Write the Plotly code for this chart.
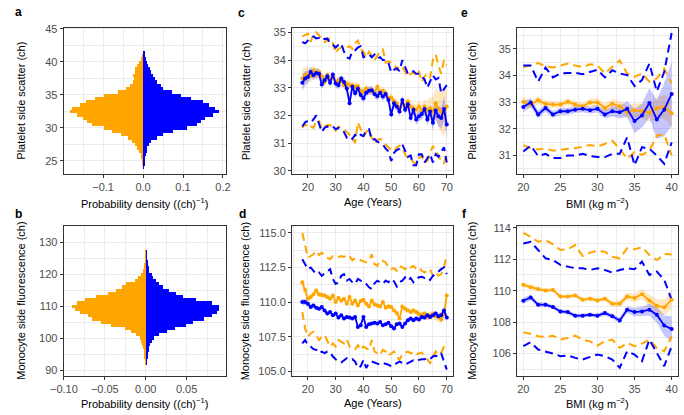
import plotly.graph_objects as go

W, H = 684, 415
ORANGE = "#FFA500"
BLUE = "#0000FF"
ORANGE_BAND = "rgba(255,165,0,0.25)"
BLUE_BAND = "rgba(0,0,255,0.22)"
GRID = "#EBEBEB"
FONT = "Liberation Sans, Arial, sans-serif"

# ---- panel a: platelet side scatter histogram (bin width 0.5 ch)
pss_bins = [24.0, 24.5, 25.0, 25.5, 26.0, 26.5, 27.0, 27.5, 28.0, 28.5, 29.0, 29.5,
            30.0, 30.5, 31.0, 31.5, 32.0, 32.5, 33.0, 33.5, 34.0, 34.5, 35.0, 35.5,
            36.0, 36.5, 37.0, 37.5, 38.0, 38.5, 39.0, 39.5, 40.0, 40.5, 41.0, 41.5]
pss_dens_male = [0.001, 0.002, 0.003, 0.004, 0.006, 0.008, 0.010, 0.014, 0.020, 0.033, 0.050, 0.073,
                 0.110, 0.135, 0.143, 0.155, 0.175, 0.188, 0.180, 0.165, 0.150, 0.118, 0.095, 0.072,
                 0.050, 0.045, 0.035, 0.030, 0.025, 0.020, 0.016, 0.012, 0.008, 0.006, 0.004, 0.002]
pss_dens_female = [-0.001, -0.002, -0.003, -0.005, -0.007, -0.010, -0.015, -0.020, -0.029, -0.040, -0.056, -0.078,
                   -0.100, -0.128, -0.142, -0.152, -0.167, -0.184, -0.180, -0.160, -0.143, -0.122, -0.100, -0.065,
                   -0.045, -0.035, -0.027, -0.025, -0.026, -0.022, -0.020, -0.015, -0.010, -0.005, -0.003, -0.001]

# ---- panel b: monocyte side fluorescence histogram (bin width 1 ch)
msf_bins = list(range(92, 128))
msf_dens_male = [0.001, 0.001, 0.002, 0.002, 0.003, 0.004, 0.005, 0.007, 0.010, 0.016, 0.026, 0.035,
                 0.049, 0.057, 0.071, 0.081, 0.087, 0.089, 0.089, 0.081, 0.061, 0.045, 0.037, 0.028,
                 0.021, 0.016, 0.012, 0.009, 0.007, 0.004, 0.003, 0.002, 0.002, 0.001, 0.001, 0.0005]
msf_dens_female = [-0.001, -0.001, -0.002, -0.002, -0.003, -0.004, -0.005, -0.006, -0.008, -0.012, -0.018, -0.026,
                   -0.043, -0.055, -0.066, -0.071, -0.081, -0.087, -0.091, -0.085, -0.075, -0.061, -0.047, -0.037,
                   -0.030, -0.024, -0.014, -0.010, -0.006, -0.004, -0.003, -0.002, -0.001, -0.001, -0.0005, -0.0003]

# ---- panels c, d: by age
age = list(range(18, 71))

c_blue_mean = [33.18, 33.33, 33.39, 33.57, 33.45, 33.53, 33.50, 33.12, 33.27, 33.41,
               33.18, 33.48, 33.15, 33.09, 33.33, 33.21, 32.97, 32.44, 33.03, 32.80,
               32.97, 32.74, 32.62, 32.82, 32.89, 32.91, 32.77, 32.70, 32.82, 32.68,
               32.77, 32.56, 32.03, 32.44, 32.32, 32.14, 32.56, 32.20, 32.40, 31.91,
               32.20, 31.85, 31.97, 32.05, 32.23, 31.85, 32.14, 31.73, 32.18, 31.97,
               31.91, 32.23, 31.67]
c_blue_hw = [0.30, 0.26, 0.22, 0.20, 0.19, 0.18, 0.17, 0.17, 0.16, 0.16,
             0.16, 0.15, 0.15, 0.15, 0.15, 0.15, 0.15, 0.15, 0.15, 0.15,
             0.15, 0.15, 0.15, 0.15, 0.15, 0.15, 0.15, 0.15, 0.15, 0.15,
             0.15, 0.15, 0.16, 0.16, 0.16, 0.16, 0.17, 0.17, 0.17, 0.18,
             0.18, 0.19, 0.19, 0.20, 0.21, 0.22, 0.24, 0.28, 0.32, 0.36,
             0.40, 0.45, 0.48]
c_blue_hi = [34.65, 34.60, 34.70, 34.80, 34.85, 34.78, 34.80, 34.85, 34.75, 34.78,
             34.60, 34.55, 34.45, 34.55, 34.60, 34.30, 34.10, 34.05, 34.30, 34.35,
             34.45, 34.50, 34.10, 34.15, 34.20, 34.10, 34.20, 34.05, 34.10, 34.00,
             34.00, 33.90, 33.55, 33.65, 33.70, 33.60, 34.00, 33.75, 33.50, 33.55,
             33.60, 33.50, 33.50, 33.40, 33.30, 33.00, 33.20, 33.45, 33.30, 33.35,
             32.80, 32.95, 33.10]
c_blue_lo = [31.60, 31.75, 31.80, 31.75, 31.85, 32.00, 31.70, 31.40, 31.55, 31.60,
             31.55, 31.60, 31.50, 31.55, 31.50, 31.40, 31.20, 31.25, 31.15, 31.30,
             31.20, 31.30, 31.25, 31.45, 31.50, 31.10, 31.15, 31.05, 31.00, 30.95,
             30.80, 30.70, 30.35, 30.65, 30.75, 30.80, 30.95, 30.70, 30.50, 30.55,
             30.20, 30.20, 30.60, 30.60, 30.30, 30.45, 30.60, 30.30, 30.60, 30.50,
             30.70, 30.85, 30.30]
c_orange_mean = [33.33, 33.45, 33.48, 33.41, 33.63, 33.48, 33.57, 33.41, 33.21, 33.45,
                 33.33, 33.39, 33.18, 33.27, 33.25, 33.09, 33.15, 33.09, 33.09, 33.03,
                 33.06, 32.89, 32.86, 32.97, 32.89, 32.89, 32.82, 33.03, 32.82, 32.89,
                 32.80, 32.62, 32.65, 32.50, 32.44, 32.26, 32.44, 32.32, 32.50, 32.32,
                 32.26, 32.20, 32.32, 32.18, 32.32, 32.20, 32.26, 32.14, 32.44, 32.23,
                 32.14, 32.09, 32.32]
c_orange_hw = [0.35, 0.30, 0.25, 0.22, 0.20, 0.19, 0.18, 0.17, 0.16, 0.16,
               0.15, 0.15, 0.15, 0.14, 0.14, 0.14, 0.14, 0.14, 0.14, 0.14,
               0.14, 0.14, 0.14, 0.14, 0.14, 0.14, 0.14, 0.14, 0.14, 0.14,
               0.14, 0.14, 0.15, 0.15, 0.15, 0.15, 0.16, 0.16, 0.17, 0.17,
               0.18, 0.18, 0.20, 0.22, 0.25, 0.30, 0.40, 0.50, 0.55, 0.65,
               0.75, 0.85, 0.70]
c_orange_hi = [34.85, 34.90, 34.95, 34.65, 34.95, 35.00, 34.90, 34.70, 34.65, 34.70,
               34.80, 34.60, 34.25, 34.40, 34.45, 34.50, 34.45, 34.50, 34.40, 34.60,
               34.70, 34.40, 34.30, 34.10, 34.30, 34.15, 34.00, 34.15, 34.30, 34.40,
               33.90, 33.95, 33.90, 33.85, 33.65, 33.80, 33.75, 33.55, 33.40, 33.50,
               33.55, 33.45, 33.60, 33.20, 33.40, 33.50, 33.35, 34.00, 34.20, 33.80,
               33.50, 34.00, 33.80]
c_orange_lo = [31.55, 31.70, 31.55, 31.60, 31.55, 31.80, 31.80, 31.50, 31.60, 31.65,
               31.65, 31.55, 31.45, 31.60, 31.55, 31.50, 31.40, 31.30, 31.20, 31.00,
               31.75, 31.50, 31.25, 31.40, 31.50, 31.20, 31.00, 31.10, 31.15, 31.10,
               30.95, 30.85, 30.75, 30.70, 30.85, 30.90, 30.85, 30.60, 30.45, 30.45,
               30.30, 30.25, 30.45, 30.55, 30.30, 30.35, 30.60, 30.90, 30.70, 30.55,
               30.35, 30.25, 30.70]

d_blue_mean = [110.00, 110.00, 109.88, 109.64, 109.76, 109.60, 109.52, 109.64, 109.40, 109.17,
               109.29, 109.05, 109.17, 108.88, 109.05, 108.81, 108.93, 108.88, 108.81, 108.93,
               108.21, 108.33, 108.93, 108.21, 108.40, 108.45, 108.50, 108.45, 108.57, 108.33,
               108.40, 108.50, 108.26, 108.10, 108.40, 108.45, 108.21, 108.45, 108.69, 108.81,
               108.69, 108.81, 108.74, 108.93, 108.88, 109.05, 108.93, 109.05, 109.17, 108.98,
               109.05, 109.40, 108.88]
d_blue_hw = [0.25, 0.22, 0.20, 0.18, 0.17, 0.16, 0.15, 0.15, 0.14, 0.14,
             0.14, 0.13, 0.13, 0.13, 0.13, 0.13, 0.12, 0.12, 0.12, 0.12,
             0.12, 0.12, 0.12, 0.12, 0.12, 0.12, 0.12, 0.12, 0.12, 0.12,
             0.12, 0.12, 0.12, 0.13, 0.13, 0.13, 0.13, 0.14, 0.14, 0.14,
             0.15, 0.15, 0.16, 0.16, 0.17, 0.17, 0.18, 0.19, 0.20, 0.22,
             0.24, 0.26, 0.30]
d_blue_hi = [113.10, 112.74, 112.38, 112.50, 112.26, 112.02, 112.14, 111.90, 112.07, 112.26,
             112.38, 111.67, 111.31, 111.43, 111.90, 112.02, 111.55, 111.67, 111.43, 111.31,
             111.67, 111.55, 111.50, 111.31, 111.07, 110.95, 111.36, 111.55, 111.43, 111.31,
             111.55, 111.43, 111.67, 111.50, 111.12, 111.43, 111.55, 111.79, 111.55, 111.74,
             111.43, 111.67, 111.79, 111.83, 111.74, 111.79, 111.60, 111.90, 112.02, 112.21,
             112.38, 112.50, 112.02]
d_blue_lo = [107.02, 107.26, 106.90, 106.79, 106.60, 106.55, 106.31, 106.43, 106.31, 106.43,
             106.38, 106.07, 105.88, 105.71, 105.64, 105.83, 105.95, 105.83, 105.88, 105.71,
             105.24, 105.36, 105.83, 105.24, 105.60, 105.71, 105.64, 105.60, 105.48, 105.60,
             105.55, 105.48, 105.36, 105.41, 105.60, 105.71, 105.60, 105.48, 105.60, 105.71,
             105.79, 105.71, 105.83, 105.88, 105.88, 105.95, 105.88, 106.07, 106.12, 106.07,
             106.31, 105.71, 105.12]
d_orange_mean = [111.43, 110.88, 110.24, 110.36, 110.55, 110.83, 110.55, 110.52, 110.48, 110.36,
                 110.24, 110.48, 110.00, 110.31, 110.12, 110.24, 109.88, 110.36, 109.88, 110.12,
                 109.76, 110.07, 110.17, 109.88, 109.69, 110.12, 109.83, 109.76, 109.69, 110.00,
                 109.60, 109.69, 109.64, 109.40, 109.21, 108.81, 109.69, 109.52, 109.40, 109.29,
                 109.40, 109.29, 109.12, 109.05, 109.17, 108.93, 109.05, 109.12, 108.98, 108.93,
                 108.74, 109.17, 110.48]
d_orange_hw = [0.35, 0.30, 0.26, 0.23, 0.21, 0.20, 0.19, 0.18, 0.17, 0.17,
               0.16, 0.16, 0.16, 0.15, 0.15, 0.15, 0.15, 0.15, 0.15, 0.15,
               0.15, 0.15, 0.15, 0.15, 0.15, 0.15, 0.15, 0.15, 0.15, 0.15,
               0.15, 0.15, 0.16, 0.16, 0.16, 0.17, 0.17, 0.18, 0.18, 0.19,
               0.20, 0.20, 0.21, 0.22, 0.23, 0.24, 0.25, 0.27, 0.30, 0.33,
               0.36, 0.40, 0.60]
d_orange_hi = [115.00, 114.17, 113.21, 113.33, 113.45, 113.69, 113.40, 113.57, 113.33, 113.21,
               113.10, 113.33, 113.33, 113.26, 113.33, 113.26, 113.40, 113.33, 113.02, 113.17,
               113.10, 113.02, 112.93, 112.86, 112.98, 113.45, 112.74, 112.62, 113.02, 112.98,
               112.86, 112.50, 112.38, 112.45, 112.26, 112.62, 112.50, 112.38, 112.62, 112.50,
               112.62, 112.38, 112.50, 112.26, 112.14, 112.26, 112.38, 111.90, 112.14, 111.90,
               112.02, 112.50, 113.45]
d_orange_lo = [109.29, 108.10, 107.50, 107.74, 107.86, 107.62, 107.26, 107.50, 107.62, 107.26,
               106.79, 107.02, 106.79, 107.26, 107.14, 107.02, 107.31, 106.79, 106.67, 106.60,
               106.90, 106.55, 106.79, 106.67, 106.55, 107.26, 106.43, 106.31, 106.19, 106.55,
               106.43, 106.12, 106.31, 106.43, 106.07, 105.83, 106.26, 106.36, 106.43, 106.31,
               106.36, 106.19, 106.31, 106.36, 106.12, 105.88, 105.60, 106.07, 106.43, 106.19,
               106.31, 106.79, 107.14]

# ---- panels e, f: by BMI
bmi = list(range(20, 41))

e_blue_mean = [32.82, 32.99, 32.54, 32.78, 32.54, 32.66, 32.66, 32.72, 32.75, 32.70, 32.75,
               32.54, 32.66, 32.62, 32.75, 32.29, 32.50, 32.97, 32.35, 32.72, 33.31]
e_blue_hw = [0.20, 0.17, 0.15, 0.14, 0.13, 0.13, 0.13, 0.13, 0.13, 0.13, 0.14,
             0.16, 0.19, 0.23, 0.30, 0.45, 0.45, 0.55, 0.73, 1.00, 1.20]
e_blue_hi = [34.38, 34.38, 33.77, 34.30, 33.93, 34.08, 34.10, 34.10, 34.05, 34.14, 34.22,
             33.93, 34.20, 34.08, 34.02, 33.61, 33.83, 34.45, 33.40, 34.14, 35.60]
e_blue_lo = [31.15, 31.37, 30.98, 31.06, 30.90, 30.90, 31.00, 31.00, 31.06, 30.98, 30.94,
             30.94, 31.06, 31.06, 31.68, 30.63, 31.31, 31.25, 31.00, 30.69, 31.49]
e_orange_mean = [33.02, 32.91, 33.07, 32.94, 32.91, 32.91, 33.02, 32.91, 32.85, 32.99, 32.99,
                 32.78, 32.94, 32.85, 32.62, 32.70, 32.66, 32.60, 32.78, 32.82, 32.58]
e_orange_hw = [0.18, 0.15, 0.14, 0.13, 0.13, 0.13, 0.13, 0.13, 0.13, 0.14, 0.15,
               0.16, 0.18, 0.20, 0.24, 0.26, 0.28, 0.34, 0.40, 0.45, 0.50]
e_orange_hi = [34.32, 34.38, 34.47, 34.35, 34.30, 34.38, 34.45, 34.38, 34.32, 34.42, 34.38,
               34.08, 34.32, 34.57, 34.08, 33.95, 34.08, 33.77, 33.89, 34.26, 33.71]
e_orange_lo = [31.39, 31.27, 31.22, 31.27, 31.18, 31.22, 31.25, 31.27, 31.34, 31.39, 31.34,
               31.43, 31.55, 31.25, 30.88, 31.12, 31.02, 31.18, 31.74, 31.80, 31.00]

f_blue_mean = [109.36, 109.57, 109.11, 109.11, 108.96, 108.68, 108.64, 108.41, 108.41, 108.47, 108.41,
               108.58, 108.37, 108.11, 108.79, 108.64, 108.68, 108.79, 108.47, 107.78, 107.57]
f_blue_hw = [0.20, 0.17, 0.15, 0.14, 0.13, 0.13, 0.13, 0.13, 0.13, 0.13, 0.14,
             0.15, 0.16, 0.18, 0.22, 0.26, 0.30, 0.38, 0.50, 0.65, 0.80]
f_blue_hi = [113.00, 113.11, 112.59, 112.06, 111.95, 111.64, 111.53, 111.43, 111.43, 111.32, 111.43,
             111.32, 111.15, 111.32, 111.43, 111.36, 111.85, 111.00, 111.22, 110.69, 109.42]
f_blue_lo = [106.47, 106.72, 106.26, 106.15, 106.00, 105.84, 105.88, 105.73, 105.62, 105.79, 105.94,
             105.84, 105.62, 105.10, 106.15, 105.94, 105.52, 106.89, 106.05, 105.20, 106.47]
f_orange_mean = [110.37, 110.22, 110.10, 110.01, 110.05, 109.63, 109.63, 109.70, 109.42, 109.49, 109.38,
                 109.49, 109.17, 109.17, 109.63, 109.53, 109.78, 109.38, 109.04, 108.94, 109.42]
f_orange_hw = [0.18, 0.15, 0.14, 0.13, 0.13, 0.13, 0.13, 0.13, 0.13, 0.14, 0.15,
               0.16, 0.18, 0.20, 0.24, 0.28, 0.32, 0.36, 0.42, 0.50, 0.60]
f_orange_hi = [113.68, 113.43, 113.11, 113.22, 112.95, 112.59, 112.63, 112.90, 112.21, 112.42, 112.54,
               112.48, 112.16, 112.06, 112.69, 112.63, 112.76, 112.27, 111.95, 112.33, 112.30]
f_orange_lo = [107.35, 107.27, 107.10, 107.06, 107.14, 106.89, 107.00, 107.14, 106.89, 106.78, 106.51,
               106.78, 106.89, 106.36, 106.68, 106.47, 106.64, 106.89, 106.36, 106.15, 107.10]


def pxx(x):
    return x / W


def pxy(y):
    return 1 - y / H


fig = go.Figure()


def add_hist(n, bins, female, male, width):
    for dens, col in ((female, ORANGE), (male, BLUE)):
        fig.add_trace(go.Bar(
            x=dens, y=bins, orientation="h", width=width,
            marker=dict(color=col, line=dict(width=0)),
            xaxis=f"x{n}", yaxis=f"y{n}", hoverinfo="skip",
        ))


def add_trend(n, x, series):
    # series: list of (mean, halfwidth, hi, lo, colour, band colour)
    for mean, hw, hi, lo, col, band in series:
        upper = [m + h for m, h in zip(mean, hw)]
        lower = [m - h for m, h in zip(mean, hw)]
        fig.add_trace(go.Scatter(
            x=list(x) + list(x)[::-1], y=upper + lower[::-1], fill="toself",
            fillcolor=band, line=dict(width=0), mode="lines",
            xaxis=f"x{n}", yaxis=f"y{n}", hoverinfo="skip",
        ))
    for mean, hw, hi, lo, col, band in series:
        for q in (hi, lo):
            fig.add_trace(go.Scatter(
                x=x, y=q, mode="lines",
                line=dict(color=col, width=2, dash="8px,5px"),
                xaxis=f"x{n}", yaxis=f"y{n}",
            ))
    for mean, hw, hi, lo, col, band in series:
        fig.add_trace(go.Scatter(
            x=x, y=mean, mode="lines+markers",
            line=dict(color=col, width=1.8), marker=dict(color=col, size=4),
            xaxis=f"x{n}", yaxis=f"y{n}",
        ))


add_hist(1, pss_bins, pss_dens_female, pss_dens_male, 0.5)
add_hist(2, msf_bins, msf_dens_female, msf_dens_male, 1.0)
add_trend(3, age, [
    (c_orange_mean, c_orange_hw, c_orange_hi, c_orange_lo, ORANGE, ORANGE_BAND),
    (c_blue_mean, c_blue_hw, c_blue_hi, c_blue_lo, BLUE, BLUE_BAND),
])
add_trend(4, age, [
    (d_orange_mean, d_orange_hw, d_orange_hi, d_orange_lo, ORANGE, ORANGE_BAND),
    (d_blue_mean, d_blue_hw, d_blue_hi, d_blue_lo, BLUE, BLUE_BAND),
])
add_trend(5, bmi, [
    (e_orange_mean, e_orange_hw, e_orange_hi, e_orange_lo, ORANGE, ORANGE_BAND),
    (e_blue_mean, e_blue_hw, e_blue_hi, e_blue_lo, BLUE, BLUE_BAND),
])
add_trend(6, bmi, [
    (f_orange_mean, f_orange_hw, f_orange_hi, f_orange_lo, ORANGE, ORANGE_BAND),
    (f_blue_mean, f_blue_hw, f_blue_hi, f_blue_lo, BLUE, BLUE_BAND),
])


def axis(n, dom, rng, dtick, fmt=None):
    return dict(
        domain=dom, range=rng, tick0=0, dtick=dtick, tickformat=fmt,
        anchor=n, showgrid=True, gridcolor=GRID, gridwidth=1.1, zeroline=False,
        minor=dict(tick0=0, dtick=dtick / 2, showgrid=True, gridcolor=GRID, gridwidth=0.6),
        showline=True, mirror=True, linecolor="#333333", linewidth=1,
        ticks="outside", ticklen=3, tickcolor="#333333", tickwidth=1,
        tickfont=dict(family=FONT, size=11, color="#4D4D4D"),
    )


top = [pxy(172), pxy(23)]
bot = [pxy(377), pxy(225)]
col_a = [pxx(51), pxx(218)]
col_c = [pxx(286), pxx(451.7)]
col_e = [pxx(517.5), pxx(683.3)]

layout_axes = {
    "xaxis": axis("y", col_a, [-0.199, 0.2075], 0.1, ".1f"),
    "yaxis": axis("x", top, [22.96, 45.2], 5),
    "xaxis2": axis("y2", col_a, [-0.1004, 0.0981], 0.05, ".2f"),
    "yaxis2": axis("x2", bot, [88.3, 135.1], 10),
    "xaxis3": axis("y3", col_c, [14.3, 72.3], 10),
    "yaxis3": axis("x3", top, [29.88, 35.17], 1),
    "xaxis4": axis("y4", col_c, [14.3, 72.3], 10),
    "yaxis4": axis("x4", bot, [104.69, 115.48], 2.5, ".1f"),
    "xaxis5": axis("y5", col_e, [19.17, 40.9], 5),
    "yaxis5": axis("x5", top, [30.3, 35.8], 1),
    "xaxis6": axis("y6", col_e, [19.17, 40.9], 5),
    "yaxis6": axis("x6", bot, [104.6, 114.1], 2),
}

annotations = []


def label(text, x, y, size=11, angle=0, bold=False):
    annotations.append(dict(
        text=f"<b>{text}</b>" if bold else text, x=pxx(x), y=pxy(y),
        xref="paper", yref="paper", showarrow=False, textangle=angle,
        xanchor="center", yanchor="middle",
        font=dict(family=FONT, size=size, color="black"),
    ))


for t, x, y in (("a", 5, 7), ("b", 5, 213), ("c", 234, 8),
                ("d", 235, 213), ("e", 463, 8), ("f", 463, 213)):
    label(t, x, y, size=12, bold=True)

dens_title = "Probability density ((ch)<sup>\u22121</sup>)"
bmi_title = "BMI (kg m<sup>\u22122</sup>)"
label(dens_title, 134.5, 201)
label(dens_title, 134.5, 405)
label("Age (Years)", 369, 200)
label("Age (Years)", 369, 405)
label(bmi_title, 600, 201)
label(bmi_title, 600, 405)
label("Platelet side scatter (ch)", 7, 97.5, angle=-90)
label("Monocyte side fluorescence (ch)", 7, 301, angle=-90)
label("Platelet side scatter (ch)", 238, 97.5, angle=-90)
label("Monocyte side fluorescence (ch)", 238, 301, angle=-90)
label("Platelet side scatter (ch)", 471, 97.5, angle=-90)
label("Monocyte side fluorescence (ch)", 471, 301, angle=-90)

fig.update_layout(
    width=W, height=H,
    margin=dict(l=0, r=0, t=0, b=0),
    paper_bgcolor="white", plot_bgcolor="white",
    barmode="overlay", bargap=0,
    showlegend=False,
    font=dict(family=FONT, size=11, color="#4D4D4D"),
    annotations=annotations,
    **layout_axes,
)

# the page body has a default 8px margin; remove it so the figure sits at the corner
fig.write_html(
    "out.html",
    config={"displayModeBar": False},
    post_script="document.body.style.margin = '0';",
)
